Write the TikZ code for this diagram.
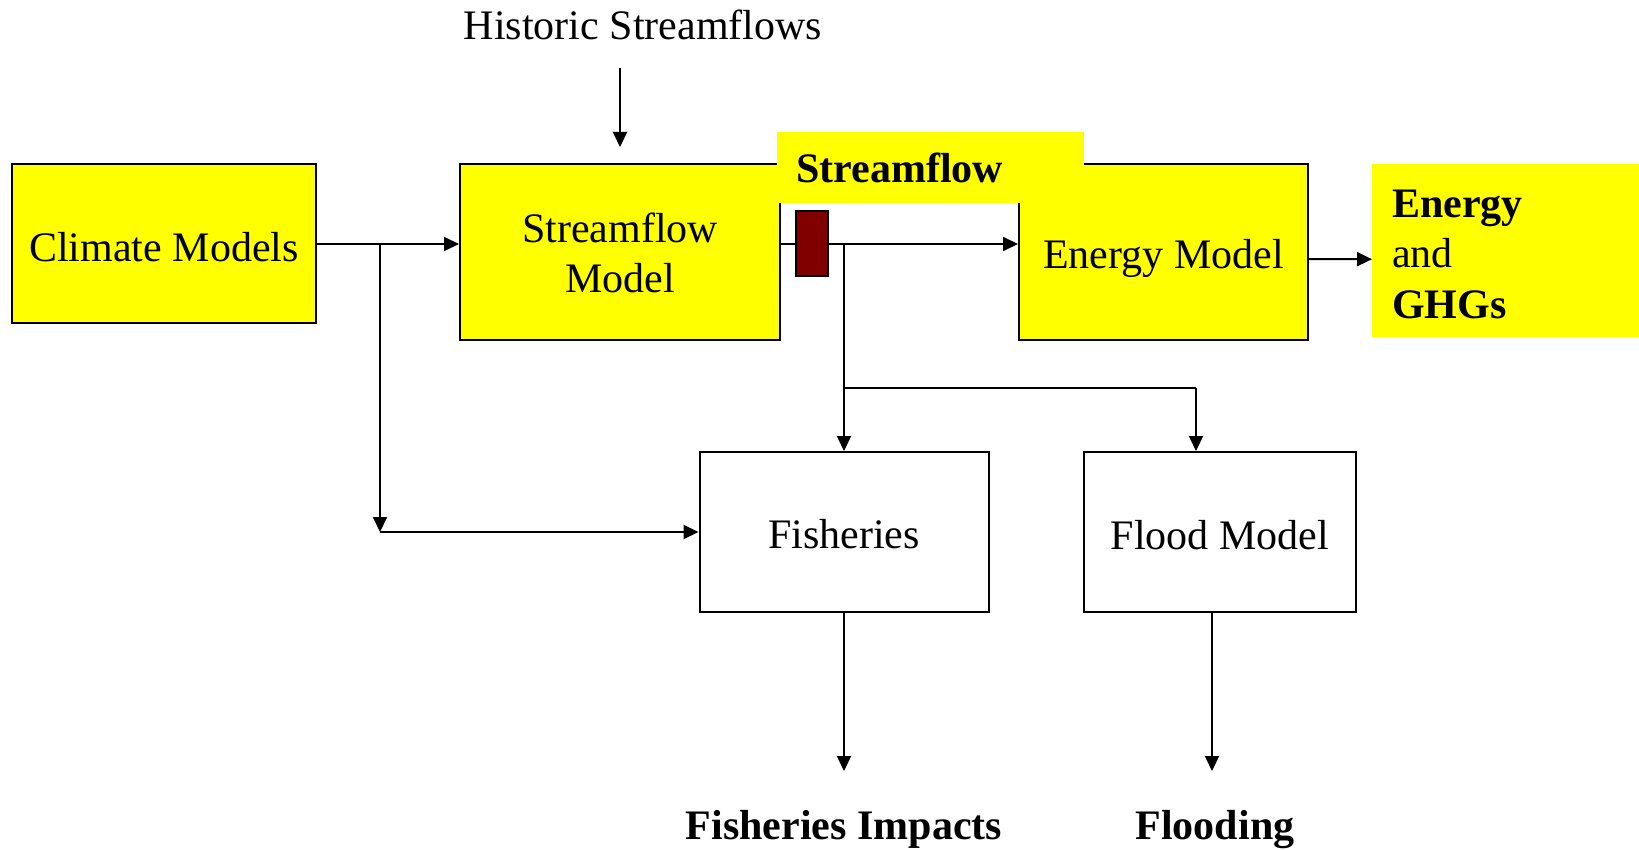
\documentclass[tikz,border=0pt]{standalone}
\usepackage{fontspec}
\setmainfont{Liberation Serif}
\usetikzlibrary{arrows.meta,calc}
\definecolor{boxyellow}{RGB}{255,255,0}
\definecolor{gaugered}{RGB}{128,0,0}
\begin{document}
\begin{tikzpicture}[x=1pt,y=-1pt,
  every node/.style={font=\fontsize{42}{50}\selectfont, inner sep=0pt},
  model/.style={draw, line width=2pt, fill=boxyellow},
  plainbox/.style={draw, line width=2pt, fill=white},
  tag/.style={fill=boxyellow, align=left, anchor=north west},
  wire/.style={line width=2pt},
  arr/.style={line width=2pt, -{Triangle[width=14pt,length=15pt]}}]
\useasboundingbox (0,0) rectangle (1639,850);

% model boxes (text height/depth place each baseline in its box)
\node[model, minimum width=304, minimum height=159, text height=41pt, text depth=5pt] (cm) at (164,243.5) {Climate Models};
\node[model, minimum width=320, minimum height=176, text height=30pt, text depth=48pt] (sm) at (620,252)
  {\begin{tabular}[t]{@{}c@{}}Streamflow\\Model\end{tabular}};
\node[model, minimum width=289, minimum height=176, text height=39pt, text depth=5pt] (em) at (1163.5,252) {Energy Model};
\node[plainbox, minimum width=289, minimum height=160, text height=38pt, text depth=5pt] (fi) at (844,532) {Fisheries};
\node[plainbox, minimum width=272, minimum height=160, text height=39pt, text depth=5pt] (fl) at (1220,532) {Flood Model};

% yellow labels
\node[tag, minimum width=307, minimum height=71, inner xsep=19, text width=269] (sf) at (777,132)
  {\bfseries Streamflow};
\node[tag, minimum width=267, minimum height=173, inner xsep=20, text width=227, text height=20pt, text depth=87pt] (eg) at (1372,164)
  {\begin{tabular}[t]{@{}l@{}}\textbf{Energy}\\and\\[1pt]\textbf{GHGs}\end{tabular}};

% plain texts
\node[anchor=base] (hist) at (643,40) {Historic Streamflows};
\node[anchor=base, font=\fontsize{42}{50}\selectfont\bfseries] (fimp) at (844,839) {Fisheries Impacts};
\node[anchor=base, font=\fontsize{42}{50}\selectfont\bfseries] (fld) at (1215,839) {Flooding};

% junctions and free ends
\coordinate (h1) at (620,68);
\coordinate (h2) at (620,147);
\coordinate (j1) at (380,244);
\coordinate (j2) at (380,532);
\coordinate (j3) at (844,244);
\coordinate (j4) at (844,388);
\coordinate (j5) at (1196,388);
\coordinate (f1) at (844,771);
\coordinate (f2) at (1212,771);

% connectors
\draw[arr] (h1) -- (h2);
\draw[arr] (cm.east |- j1) -- (sm.west |- j1);
\draw[arr] (j1) -- (j2);
\draw[arr] (j2) -- (fi.west |- j2);
\draw[arr] (sm.east |- j3) -- (em.west |- j3);
\draw[arr] (j3) -- (fi.north);
\draw[wire] (j4) -- (j5);
\draw[arr] (j5) -- (fl.north -| j5);
\draw[arr] ($(em.east)+(0,7)$) -- ($(eg.west)+(0,8.5)$);
\draw[arr] (fi.south) -- (f1);
\draw[arr] (fl.south -| f2) -- (f2);

% flow gauge on the streamflow line
\node[draw, line width=2pt, fill=gaugered, minimum width=32, minimum height=65] (gauge) at (812,243.5) {};
\end{tikzpicture}
\end{document}
